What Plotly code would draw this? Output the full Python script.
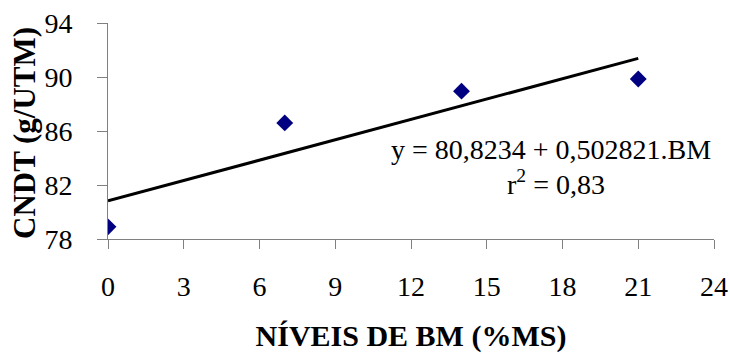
import plotly.graph_objects as go

bm_levels = [0, 7, 14, 21]
cndt = [78.9, 86.6, 88.95, 89.85]
intercept = 80.8234
slope = 0.502821
fit_x = [0, 21]
fit_y = [intercept + slope * v for v in fit_x]
x_ticks = [0, 3, 6, 9, 12, 15, 18, 21, 24]
y_ticks = [78, 82, 86, 90, 94]

FONT = "Liberation Serif, Times New Roman, serif"
FS = 28
L, R, T, B, W, H = 108, 16, 23, 115, 730, 354

fig = go.Figure()
fig.add_trace(go.Scatter(x=fit_x, y=fit_y, mode="lines",
                         line=dict(color="black", width=3), showlegend=False, hoverinfo="skip"))
fig.add_trace(go.Scatter(x=bm_levels, y=cndt, mode="markers",
                         marker=dict(symbol="diamond", color="#000080", size=13,
                                     line=dict(width=0)), showlegend=False))

fig.add_annotation(x=23.95, y=84.6, xref="x", yref="y", xanchor="right", yanchor="middle",
                   text="y = 80,8234 + 0,502821.BM", showarrow=False,
                   font=dict(family=FONT, size=FS, color="black"))
fig.add_annotation(x=17.74, y=82.2, xref="x", yref="y", xanchor="center", yanchor="middle",
                   text="r<sup>2</sup> = 0,83", showarrow=False,
                   font=dict(family=FONT, size=FS, color="black"))

# y-axis title placed as rotated text left of the tick labels
plot_w = W - L - R
plot_h = H - T - B
fig.add_annotation(x=(24 - L) / plot_w, y=(H - B - 133) / plot_h, xref="paper", yref="paper",
                   xanchor="center", yanchor="middle", textangle=-90,
                   text="<b>CNDT (g/UTM)</b>", showarrow=False,
                   font=dict(family=FONT, size=31, color="black"))

fig.update_layout(
    width=W, height=H,
    margin=dict(l=L, r=R, t=T, b=B),
    paper_bgcolor="white", plot_bgcolor="white",
    font=dict(family=FONT, size=FS, color="black"),
    xaxis=dict(range=[0, 24], tickvals=x_ticks, showgrid=False, zeroline=False,
               automargin=False, ticklabeloverflow="allow",
               showline=True, linecolor="#808080", linewidth=1,
               ticks="outside", ticklen=9, tickcolor="#808080",
               ticklabelstandoff=13, tickfont=dict(family=FONT, size=FS),
               title=dict(text="<b>NÍVEIS DE BM (%MS)</b>", standoff=24,
                          font=dict(family=FONT, size=30))),
    yaxis=dict(range=[78, 94], tickvals=y_ticks, showgrid=False, zeroline=False,
               automargin=False, ticklabeloverflow="allow",
               showline=True, linecolor="#808080", linewidth=1,
               ticks="outside", ticklen=10, tickcolor="#808080",
               ticklabelstandoff=19, tickfont=dict(family=FONT, size=FS)),
)

fig.write_html(
    "out.html",
    config={"displayModeBar": False},
    post_script="document.body.style.margin='0';document.body.style.overflow='hidden';",
)
